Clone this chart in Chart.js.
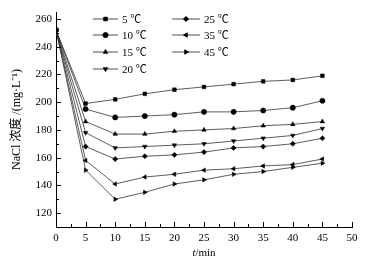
<!DOCTYPE html>
<html>
<head>
<meta charset="utf-8">
<script src="https://cdn.jsdelivr.net/npm/chart.js@4.4.1/dist/chart.umd.min.js"></script>
<style>
    html, body { margin: 0; padding: 0; background: #fff; }
    #wrap { width: 370px; height: 266px; }
</style>
</head>
<body>
<div id="wrap"><canvas id="nacl"></canvas></div>
<script>
const times = [0, 5, 10, 15, 20, 25, 30, 35, 40, 45];
const xTicks = [0, 5, 10, 15, 20, 25, 30, 35, 40, 45, 50];
const yTicks = [120, 140, 160, 180, 200, 220, 240, 260];

const labels = ['5 ℃', '10 ℃', '15 ℃', '20 ℃', '25 ℃', '35 ℃', '45 ℃'];
const t5  = [252, 199, 202, 206, 209, 211, 213, 215, 216, 219];
const t10 = [252, 195, 189, 190, 191, 193, 193, 194, 196, 201];
const t15 = [252, 186, 177, 177, 179, 180, 181, 183, 184, 186];
const t20 = [252, 178, 167, 168, 169, 170, 172, 174, 176, 181];
const t25 = [252, 168, 159, 161, 162, 164, 167, 168, 170, 174];
const t35 = [252, 158, 141, 146, 148, 151, 152, 154, 155, 159];
const t45 = [252, 151, 130, 135, 141, 144, 148, 150, 153, 156];

const series = [t5, t10, t15, t20, t25, t35, t45];
const styles = ['rect', 'circle', 'triangle', 'triangle', 'rectRot', 'triangle', 'triangle'];
const rotations = [0, 0, 0, 180, 0, -90, 90];

const serif = '"Liberation Serif", "Times New Roman", "Noto Sans CJK SC", serif';

// petite légende en deux colonnes, remplie colonne par colonne
const legendSlots = [
    [93, 118, 19], [93, 118, 35], [93, 118, 52], [93, 118, 69],
    [172, 200, 19], [172, 200, 35], [172, 200, 52]
];

const extras = {
    id: 'extras',
    afterDraw(chart) {
        const ctx = chart.ctx;
        const x = chart.scales.x;
        const y = chart.scales.y;
        const area = chart.chartArea;
        ctx.save();
        ctx.strokeStyle = '#000';
        ctx.lineWidth = 1;
        // ticks vers l'intérieur
        ctx.beginPath();
        for (let v = 0; v <= 50; v += 2.5) {
            const px = Math.round(x.getPixelForValue(v)) + 0.5;
            const len = v % 5 === 0 ? 5 : 3;
            ctx.moveTo(px, area.bottom);
            ctx.lineTo(px, area.bottom - len);
        }
        for (let v = 120; v <= 260; v += 10) {
            const py = Math.round(y.getPixelForValue(v)) + 0.5;
            const len = v % 20 === 0 ? 5 : 3;
            ctx.moveTo(area.left, py);
            ctx.lineTo(area.left + len, py);
        }
        ctx.stroke();

        // titre de l'axe x : t en italique
        ctx.fillStyle = '#000';
        ctx.textBaseline = 'middle';
        const cx = (area.left + area.right) / 2;
        ctx.font = 'italic 11px ' + serif;
        const wt = ctx.measureText('t').width;
        ctx.font = '11px ' + serif;
        const wm = ctx.measureText('/min').width;
        const sx = cx - (wt + wm) / 2;
        ctx.font = 'italic 11px ' + serif;
        ctx.fillText('t', sx, 253);
        ctx.font = '11px ' + serif;
        ctx.fillText('/min', sx + wt, 253);

        // légende
        chart.data.datasets.forEach((ds, i) => {
            const [x0, x1, ly] = legendSlots[i];
            ctx.strokeStyle = '#222';
            ctx.lineWidth = 0.8;
            ctx.beginPath();
            ctx.moveTo(x0, ly);
            ctx.lineTo(x1, ly);
            ctx.stroke();
            Chart.helpers.drawPoint(ctx, {
                pointStyle: ds.pointStyle,
                rotation: ds.pointRotation,
                radius: 2.6,
                borderWidth: 0.5
            }, (x0 + x1) / 2, ly);
            ctx.fillStyle = '#000';
            ctx.fill();
            ctx.font = '11px ' + serif;
            ctx.fillText(ds.label, x1 + 4, ly + 1);
        });
        ctx.restore();
    }
};

new Chart(document.getElementById('nacl'), {
    type: 'line',
    data: {
        datasets: series.map((vals, i) => ({
            label: labels[i],
            data: vals.map((v, k) => ({ x: times[k], y: v })),
            borderColor: '#333',
            borderWidth: 0.8,
            pointStyle: styles[i],
            pointRotation: rotations[i],
            pointRadius: 2.6,
            pointBackgroundColor: '#000',
            pointBorderColor: '#000',
            pointBorderWidth: 0.5,
            tension: 0
        }))
    },
    options: {
        responsive: true,
        maintainAspectRatio: false,
        animation: false,
        layout: { padding: { top: 12, right: 18, left: 0, bottom: 0 } },
        plugins: {
            legend: { display: false },
            tooltip: { enabled: false }
        },
        scales: {
            x: {
                type: 'linear',
                min: 0,
                max: 50,
                afterBuildTicks: s => { s.ticks = xTicks.map(v => ({ value: v })); },
                afterFit: s => { s.height = 39; },
                grid: { display: false, drawTicks: false },
                border: { color: '#000', width: 1 },
                ticks: { color: '#000', font: { family: serif, size: 11 }, padding: 5, maxRotation: 0 }
            },
            y: {
                min: 110,
                max: 265,
                afterBuildTicks: s => { s.ticks = yTicks.map(v => ({ value: v })); },
                afterFit: s => { s.width = 56; },
                grid: { display: false, drawTicks: false },
                border: { color: '#000', width: 1 },
                ticks: { color: '#000', font: { family: serif, size: 11 }, padding: 4 },
                title: {
                    display: true,
                    text: 'NaCl 浓度 /(mg·L⁻¹)',
                    color: '#000',
                    font: { family: serif, size: 12 },
                    padding: { top: 10, bottom: 0 }
                }
            }
        }
    },
    plugins: [extras]
});
</script>
</body>
</html>
